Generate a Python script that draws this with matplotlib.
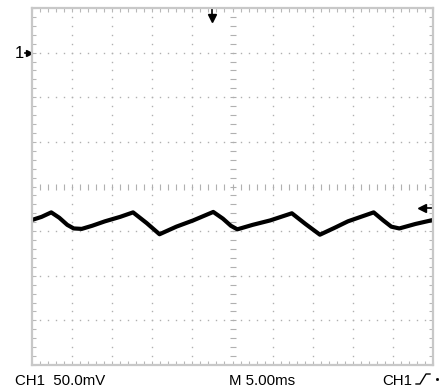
import numpy as np
import matplotlib.pyplot as plt
from matplotlib.lines import Line2D

# scope capture: CH1 at 50 mV/div, timebase 5 ms/div
t_ms = [0.0, 1.2, 2.4, 3.4, 4.4, 5.2, 6.2, 7.5, 9.1, 11.0, 12.6, 14.3, 15.9,
        18.0, 20.1, 22.6, 23.8, 24.8, 25.6, 27.5, 29.7, 32.4, 34.1, 35.9,
        37.8, 39.4, 42.6, 43.8, 44.8, 45.8, 47.8, 50.0]
v_mv = [-187.5, -184, -179, -185, -193, -197, -197.5, -194, -189, -184, -179,
        -191, -203.5, -195, -188, -178.5, -186, -194, -198, -193, -188, -180,
        -192, -204, -196, -189, -179, -188, -195, -197, -192, -187.5]

ch_label = "CH1  50.0mV"
time_label = "M 5.00ms"
trig_label = "CH1"
trig_pos_ms = 22.4
trig_level_mv = -174
ground_mv = 0

W, H = 443, 392
fig = plt.figure(figsize=(W / 100, H / 100), dpi=100)
ax = fig.add_axes([32 / W, 27 / H, 401 / W, 357 / H])
ax.set_xlim(0, 50)
ax.set_ylim(-350, 50)

grid_c = '#b0b0b0'
for s in ax.spines.values():
    s.set_color('#c8c8c8')
    s.set_linewidth(1.6)
ax.set_xticks(np.arange(0, 51, 1))
ax.set_yticks(np.arange(-350, 51, 10))
ax.tick_params(direction='in', length=3, width=0.8, color='#b8b8b8',
               top=True, right=True, labelbottom=False, labelleft=False)

# dotted graticule
minor_y = np.arange(-350, 51, 10)
minor_x = np.arange(0, 51, 1)
for xg in range(5, 50, 5):
    if xg == 25:
        continue
    ax.plot([xg] * len(minor_y), minor_y, ls='none', marker='s', ms=1.0,
            mec='none', mfc=grid_c)
for yg in range(-300, 50, 50):
    if yg == -150:
        continue
    ax.plot(minor_x, [yg] * len(minor_x), ls='none', marker='s', ms=1.0,
            mec='none', mfc=grid_c)
# centre cross with tick marks
ax.plot(minor_x, [-150] * len(minor_x), ls='none', marker='|', ms=4,
        mew=0.8, color=grid_c)
ax.plot([25] * len(minor_y), minor_y, ls='none', marker='_', ms=5,
        mew=0.8, color=grid_c)

# trace
ax.plot(t_ms, v_mv, color='black', lw=3.0, solid_joinstyle='round',
        solid_capstyle='round')

# markers: trigger position, trigger level, channel ground
ax.plot([trig_pos_ms, trig_pos_ms], [49, 40], color='black', lw=1.2,
        clip_on=False)
ax.plot(trig_pos_ms, 39, marker='v', ms=6, color='black', clip_on=False)
ax.plot([49.0, 50.0], [trig_level_mv, trig_level_mv], color='black', lw=1.2,
        clip_on=False)
ax.plot(48.6, trig_level_mv, marker='<', ms=5.5, color='black', clip_on=False)
ax.plot([-0.9, -0.2], [ground_mv, ground_mv], color='black', lw=1.2,
        clip_on=False)
ax.plot(-0.4, ground_mv, marker='>', ms=5, color='black', clip_on=False)
fig.text(15 / W, 1 - 53 / H, "1", fontsize=12, va='center', ha='left',
         family='Liberation Sans')

# status line
font = dict(fontsize=10.8, family='Liberation Sans', va='baseline')
fig.text(15 / W, 1 - 385 / H, ch_label, ha='left', **font)
fig.text(229 / W, 1 - 385 / H, time_label, ha='left', **font)
fig.text(382 / W, 1 - 385 / H, trig_label, ha='left', **font)
# rising-edge trigger glyph
sx = np.array([416, 420, 426, 430]) / W
sy = 1 - np.array([384, 384, 374, 374]) / H
fig.add_artist(Line2D(sx, sy, color='black', lw=1.0))
fig.add_artist(Line2D([437 / W], [1 - 379 / H], marker='s', ms=1.0,
                      color='black', ls='none'))

fig.savefig('out.png', dpi=100)
